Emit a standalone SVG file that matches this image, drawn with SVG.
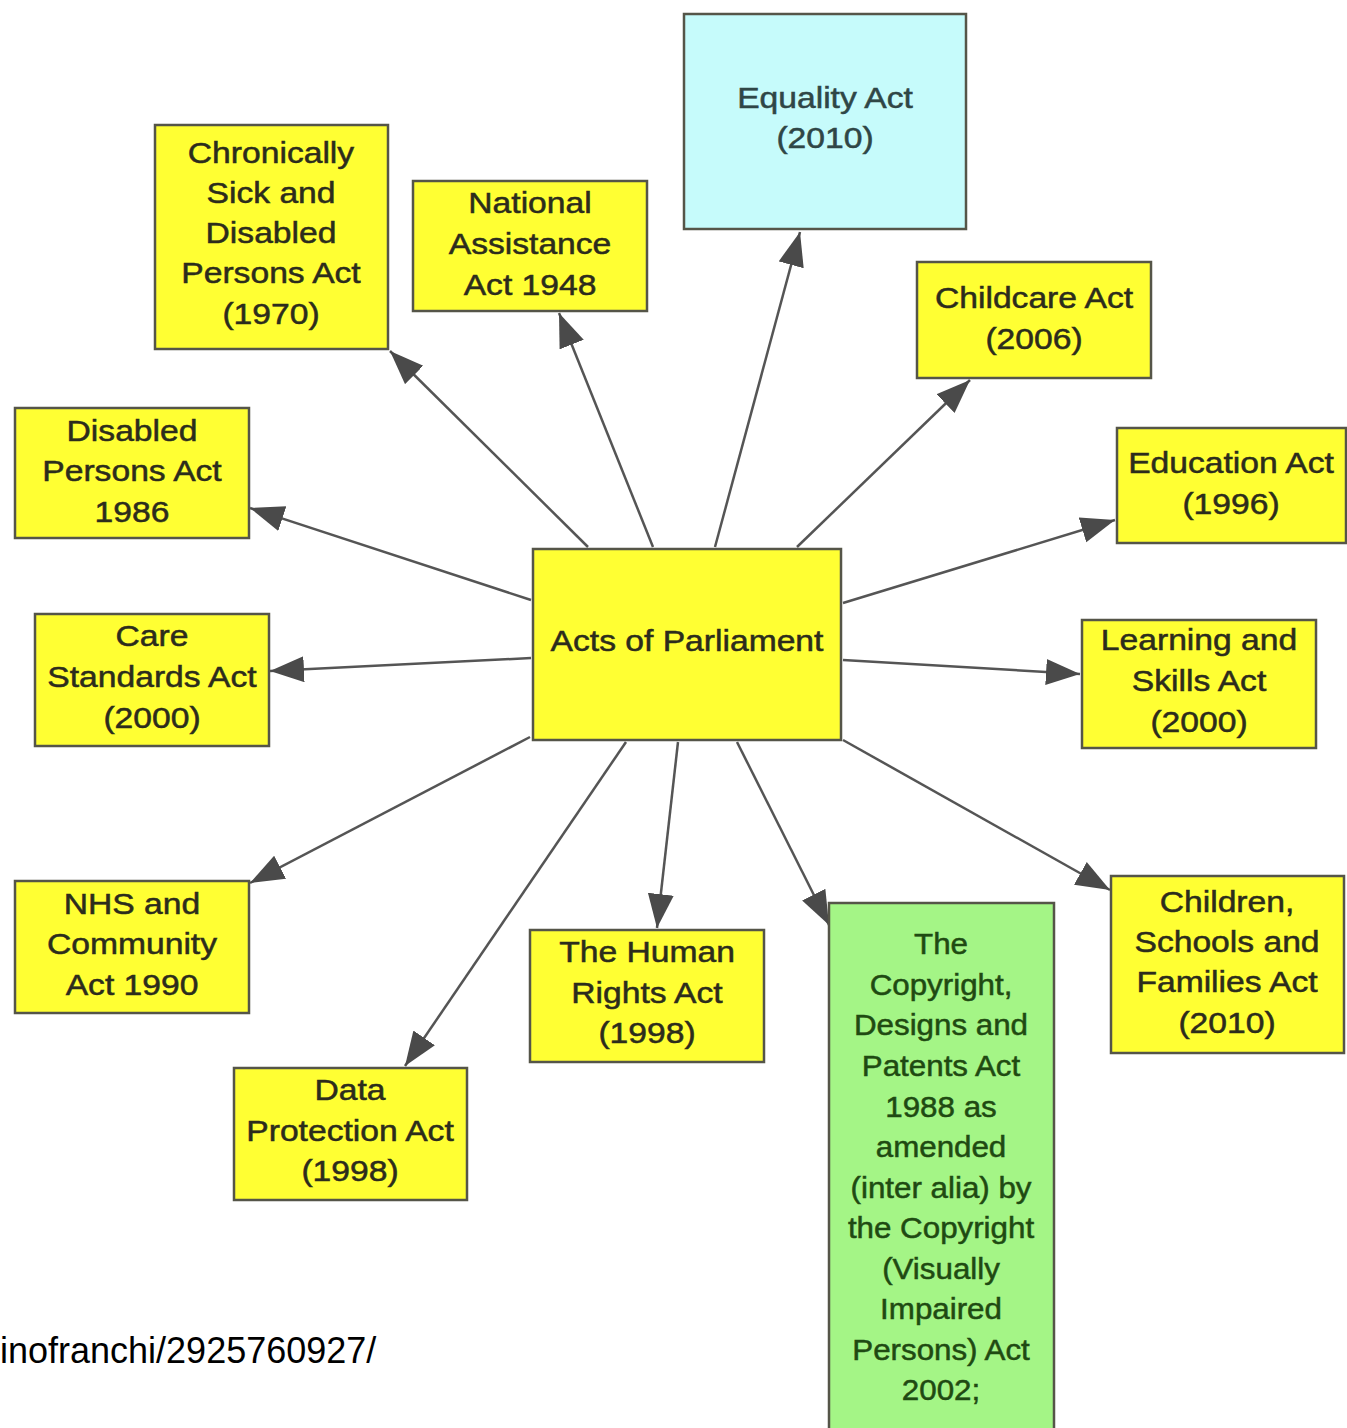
<svg xmlns="http://www.w3.org/2000/svg" width="1347" height="1428" viewBox="0 0 1347 1428">
<style>
.box{stroke:#555548;stroke-width:2.5}
.y{fill:#ffff33}
.b{fill:#c6fbfb}
.g{fill:#a4f586}
.t{font-family:"Liberation Sans",Arial,sans-serif;font-size:29px;text-anchor:middle;fill:#2c2c1c;stroke:#2c2c1c;stroke-width:0.5}
.tb{fill:#2f4646;stroke:#2f4646}
.tg{fill:#1f4a12;stroke:#1f4a12}
.c line{stroke:#555;stroke-width:2.5;marker-end:url(#ah)}
.foot{font-family:"Liberation Sans",Arial,sans-serif;font-size:36px;fill:#000}
</style>
<defs>
<marker id="ah" markerUnits="userSpaceOnUse" markerWidth="36" markerHeight="28" refX="34" refY="13" orient="auto">
<path d="M0,0 L34,13 L0,26 z" fill="#4a4a4a"/>
</marker>
</defs>
<rect width="1347" height="1428" fill="#ffffff"/>
<g id="connectors" class="c">
<line x1="588" y1="547" x2="390" y2="351"/>
<line x1="653" y1="547" x2="559" y2="313"/>
<line x1="715" y1="547" x2="800" y2="232"/>
<line x1="797" y1="547" x2="970" y2="380"/>
<line x1="843" y1="603" x2="1115" y2="520"/>
<line x1="843" y1="660" x2="1080" y2="674"/>
<line x1="843" y1="740" x2="1110" y2="890"/>
<line x1="737" y1="742" x2="829" y2="925"/>
<line x1="678" y1="742" x2="657" y2="928"/>
<line x1="626" y1="742" x2="405" y2="1066"/>
<line x1="530" y1="737" x2="250" y2="883"/>
<line x1="531" y1="658" x2="270" y2="671"/>
<line x1="531" y1="600" x2="250" y2="508"/>
</g>
<g id="equality">
<rect class="box b" x="684" y="14" width="282" height="215"/>
<text class="t tb" transform="translate(825 0) scale(1.16 1)"><tspan x="0" y="108">Equality Act</tspan><tspan x="0" y="148">(2010)</tspan></text>
</g>
<g id="chronically">
<rect class="box y" x="155" y="125" width="233" height="224"/>
<text class="t" transform="translate(271 0) scale(1.16 1)"><tspan x="0" y="163">Chronically</tspan><tspan x="0" y="203">Sick and</tspan><tspan x="0" y="243">Disabled</tspan><tspan x="0" y="283">Persons Act</tspan><tspan x="0" y="324">(1970)</tspan></text>
</g>
<g id="national">
<rect class="box y" x="413" y="181" width="234" height="130"/>
<text class="t" transform="translate(530 0) scale(1.16 1)"><tspan x="0" y="213">National</tspan><tspan x="0" y="254">Assistance</tspan><tspan x="0" y="295">Act 1948</tspan></text>
</g>
<g id="childcare">
<rect class="box y" x="917" y="262" width="234" height="116"/>
<text class="t" transform="translate(1034 0) scale(1.16 1)"><tspan x="0" y="308">Childcare Act</tspan><tspan x="0" y="349">(2006)</tspan></text>
</g>
<g id="disabled">
<rect class="box y" x="15" y="408" width="234" height="130"/>
<text class="t" transform="translate(132 0) scale(1.16 1)"><tspan x="0" y="441">Disabled</tspan><tspan x="0" y="481">Persons Act</tspan><tspan x="0" y="522">1986</tspan></text>
</g>
<g id="education">
<rect class="box y" x="1117" y="428" width="229" height="115"/>
<text class="t" transform="translate(1231 0) scale(1.16 1)"><tspan x="0" y="473">Education Act</tspan><tspan x="0" y="514">(1996)</tspan></text>
</g>
<g id="center">
<rect class="box y" x="533" y="549" width="308" height="191"/>
<text class="t" transform="translate(687 0) scale(1.16 1)"><tspan x="0" y="651">Acts of Parliament</tspan></text>
</g>
<g id="care">
<rect class="box y" x="35" y="614" width="234" height="132"/>
<text class="t" transform="translate(152 0) scale(1.16 1)"><tspan x="0" y="646">Care</tspan><tspan x="0" y="687">Standards Act</tspan><tspan x="0" y="728">(2000)</tspan></text>
</g>
<g id="learning">
<rect class="box y" x="1082" y="620" width="234" height="128"/>
<text class="t" transform="translate(1199 0) scale(1.16 1)"><tspan x="0" y="650">Learning and</tspan><tspan x="0" y="691">Skills Act</tspan><tspan x="0" y="732">(2000)</tspan></text>
</g>
<g id="nhs">
<rect class="box y" x="15" y="881" width="234" height="132"/>
<text class="t" transform="translate(132 0) scale(1.16 1)"><tspan x="0" y="914">NHS and</tspan><tspan x="0" y="954">Community</tspan><tspan x="0" y="995">Act 1990</tspan></text>
</g>
<g id="human">
<rect class="box y" x="530" y="930" width="234" height="132"/>
<text class="t" transform="translate(647 0) scale(1.16 1)"><tspan x="0" y="962">The Human</tspan><tspan x="0" y="1003">Rights Act</tspan><tspan x="0" y="1043">(1998)</tspan></text>
</g>
<g id="data">
<rect class="box y" x="234" y="1068" width="233" height="132"/>
<text class="t" transform="translate(350 0) scale(1.16 1)"><tspan x="0" y="1100">Data</tspan><tspan x="0" y="1141">Protection Act</tspan><tspan x="0" y="1181">(1998)</tspan></text>
</g>
<g id="copyright">
<rect class="box g" x="829" y="903" width="225" height="540"/>
<text class="t tg" transform="translate(941 0) scale(1.08 1)"><tspan x="0" y="954">The</tspan><tspan x="0" y="995">Copyright,</tspan><tspan x="0" y="1035">Designs and</tspan><tspan x="0" y="1076">Patents Act</tspan><tspan x="0" y="1117">1988 as</tspan><tspan x="0" y="1157">amended</tspan><tspan x="0" y="1198">(inter alia) by</tspan><tspan x="0" y="1238">the Copyright</tspan><tspan x="0" y="1279">(Visually</tspan><tspan x="0" y="1319">Impaired</tspan><tspan x="0" y="1360">Persons) Act</tspan><tspan x="0" y="1400">2002;</tspan></text>
</g>
<g id="children">
<rect class="box y" x="1111" y="876" width="233" height="177"/>
<text class="t" transform="translate(1227 0) scale(1.16 1)"><tspan x="0" y="912">Children,</tspan><tspan x="0" y="952">Schools and</tspan><tspan x="0" y="992">Families Act</tspan><tspan x="0" y="1033">(2010)</tspan></text>
</g>
<text class="foot" x="0" y="1363">inofranchi/2925760927/</text>
</svg>
